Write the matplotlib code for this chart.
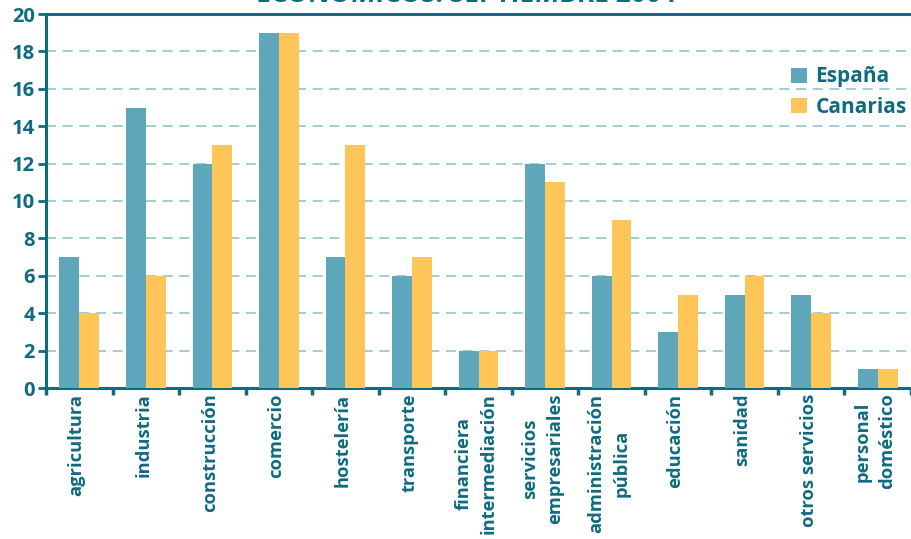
import matplotlib
matplotlib.use("Agg")
import matplotlib.pyplot as plt
import numpy as np

# sectores y porcentajes
sectores = ["agricultura", "industria", "construcción", "comercio", "hostelería",
            "transporte", "financiera\nintermediación", "servicios\nempresariales",
            "administración\npública", "educación", "sanidad", "otros servicios",
            "personal\ndoméstico"]
espana = [7, 15, 12, 19, 7, 6, 2, 12, 6, 3, 5, 5, 1]
canarias = [4, 6, 13, 19, 13, 7, 2, 11, 9, 5, 6, 4, 1]
yticks = [0, 2, 4, 6, 8, 10, 12, 14, 16, 18, 20]

AZUL = "#5ea7bb"
AMARILLO = "#fec659"
TEXTO = "#0f6b80"
REJILLA = "#92c3ce"

plt.rcParams["font.family"] = ["Open Sans", "DejaVu Sans"]

fig = plt.figure(figsize=(9.11, 5.39), dpi=100)
ax = fig.add_axes([46 / 911, 151 / 539, 865 / 911, 374 / 539])

x = np.arange(len(sectores))
w = 0.298
ax.bar(x - w / 2, espana, w, color=AZUL, label="España", zorder=3)
ax.bar(x + w / 2, canarias, w, color=AMARILLO, label="Canarias", zorder=3)

ax.set_ylim(0, 20)
ax.set_xlim(-0.5, -0.5 + 865 / 67.1)
ax.set_yticks(yticks)
ax.set_yticklabels([str(v) for v in yticks], fontsize=14.5, fontweight="bold", color=TEXTO)

# separadores entre categorías
ax.set_xticks(np.arange(len(sectores) + 1) - 0.5)
ax.set_xticklabels([])
ax.tick_params(axis="x", length=5, width=2.5, color=TEXTO, direction="out")
ax.tick_params(axis="y", length=6, width=2, color=TEXTO, direction="out", pad=2)

for xi, lab in zip(x, sectores):
    ax.text(xi - 0.04, -0.3, lab, rotation=90, ha="center", va="top", multialignment="center",
            fontsize=13.2, fontweight="bold", color=TEXTO, linespacing=1.5)

for y in yticks[1:-1]:
    ax.axhline(y, color=REJILLA, lw=1.2, ls=(0, (6, 4)), zorder=1)

for s in ["left", "bottom", "top"]:
    ax.spines[s].set_color(TEXTO)
    ax.spines[s].set_linewidth(2.2)
ax.spines["right"].set_visible(False)

leg = ax.legend(loc="upper left", bbox_to_anchor=(0.84, 0.91), frameon=False,
                prop={"size": 15, "weight": "bold"}, handlelength=0.75,
                handleheight=0.75, handletextpad=0.4, labelspacing=0.45)
for t in leg.get_texts():
    t.set_color(TEXTO)

fig.text(0.512, 1 - 2 / 539, "ECONÓMICOS: SEPTIEMBRE 2004", ha="center", va="baseline",
         fontsize=19, fontweight="bold", color=TEXTO)

fig.savefig("out.png", dpi=100)
